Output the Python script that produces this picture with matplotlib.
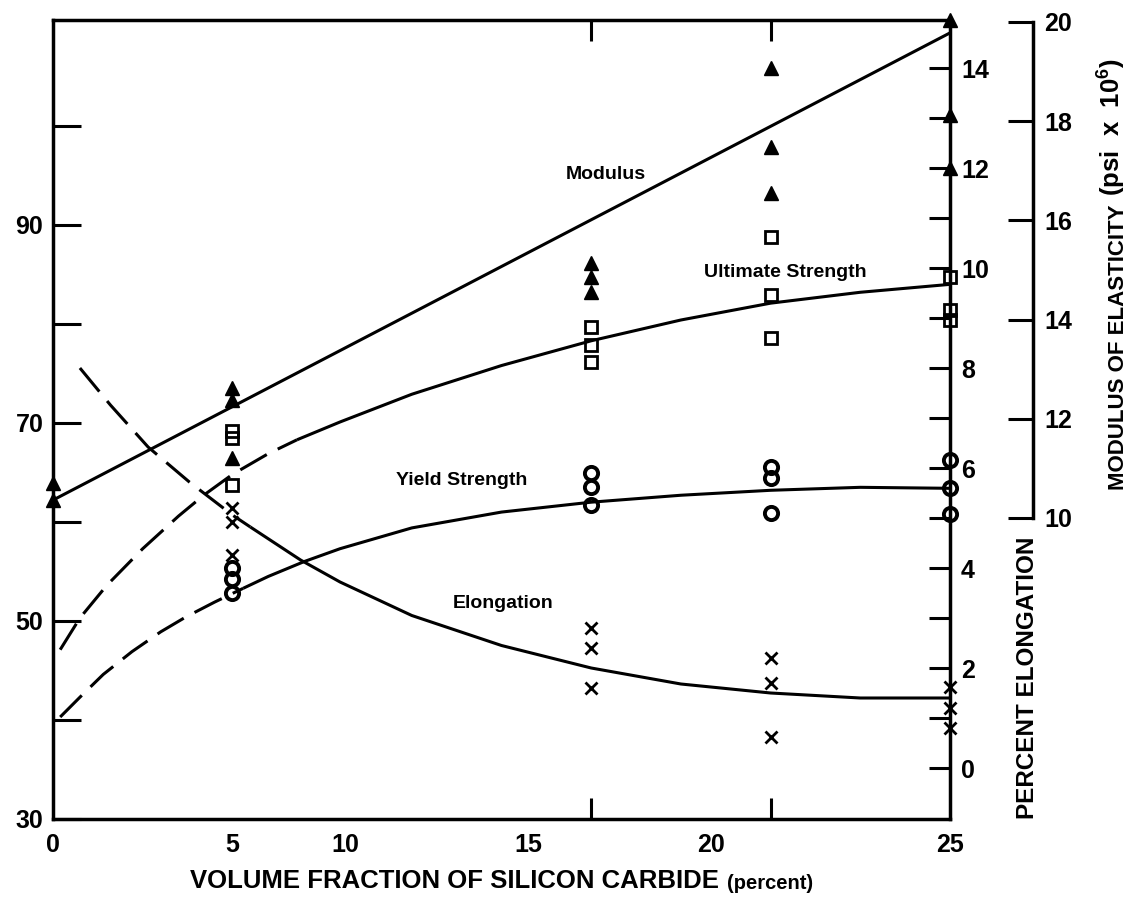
"""Tensile properties of SiC-reinforced aluminium vs. volume fraction of SiC."""

import matplotlib
matplotlib.use("Agg")
import matplotlib.pyplot as plt
import numpy as np

plt.rcParams["font.family"] = ["Liberation Sans", "DejaVu Sans"]
plt.rcParams["font.weight"] = "bold"
plt.rcParams["mathtext.fontset"] = "custom"
plt.rcParams["mathtext.rm"] = "Liberation Sans:bold"
plt.rcParams["mathtext.default"] = "rm"

# ---- fitted curves ----
modulus_x = [0, 25]
modulus_fit = [10.36, 19.78]  # psi x 10^6

ultimate_x = [0.2, 0.75, 1.5, 2.5, 3.5, 4.2, 5.0, 6.0, 6.8, 8.0, 10, 12.5, 15, 17.5, 20, 22.5, 25]
ultimate_fit = [47.1, 50.3, 53.6, 57.3, 60.6, 62.7, 64.8, 66.9, 68.3, 70.1, 72.9, 75.8, 78.3, 80.4, 82.1, 83.2, 84.0]
ultimate_solid_from = 6.8

yield_x = [0.2, 0.75, 1.4, 2.2, 3.0, 3.7, 4.5, 5.3, 6.0, 7.0, 8.0, 10, 12.5, 15, 17.5, 20, 22.5, 25]
yield_fit = [40.3, 42.3, 44.6, 46.9, 48.9, 50.4, 51.9, 53.3, 54.5, 56.0, 57.3, 59.4, 61.0, 62.0, 62.7, 63.2, 63.5, 63.4]
yield_solid_from = 5.3

elong_x = [0.75, 1.6, 2.65, 3.8, 5.0, 5.5, 6.9, 8.0, 10, 12.5, 15, 17.5, 20, 22.5, 25]
elong_fit = [8.0, 7.26, 6.42, 5.72, 5.06, 4.82, 4.16, 3.72, 3.05, 2.45, 2.0, 1.68, 1.5, 1.4, 1.4]
elong_solid_from = 5.5

# ---- measured points ----
modulus_pts_x = [0, 0, 5, 5, 5, 15, 15, 15, 20, 20, 20, 25, 25, 25]
modulus_pts = [10.71, 10.36, 12.62, 12.38, 11.21, 15.14, 14.86, 14.56,
               19.07, 17.48, 16.55, 20.04, 18.13, 17.06]

ultimate_pts_x = [5, 5, 5, 15, 15, 15, 20, 20, 20, 25, 25, 25]
ultimate_pts = [69.2, 68.5, 63.7, 79.7, 77.9, 76.2, 88.8, 82.9, 78.6, 84.7, 81.4, 80.4]

yield_pts_x = [5, 5, 5, 15, 15, 15, 20, 20, 20, 25, 25, 25]
yield_pts = [55.4, 54.2, 52.8, 64.9, 63.5, 61.7, 65.6, 64.4, 60.9, 66.3, 63.4, 60.8]

elong_pts_x = [5, 5, 5, 15, 15, 15, 20, 20, 20, 25, 25, 25]
elong_pts = [5.2, 4.92, 4.26, 2.8, 2.4, 1.6, 2.2, 1.7, 0.62, 1.62, 1.2, 0.8]

# ---- axis labelling ----
x_label_pos = [0, 5, 8.15, 13.25, 18.35, 25]
x_label_text = ["0", "5", "10", "15", "20", "25"]
x_tick_marks = [5, 15, 20]
strength_labels = [30, 50, 70, 90]
strength_minor = [40, 60, 80, 100]
elong_labels = [0, 2, 4, 6, 8, 10, 12, 14]
elong_minor = [1, 3, 5, 7, 9, 11, 13]
modulus_labels = [10, 12, 14, 16, 18, 20]

DASH = (0, (10, 4))
LW = 2.2
TICK_FS = 18


def split_plot(ax, xs, ys, cut):
    xs = np.asarray(xs, dtype=float)
    ys = np.asarray(ys, dtype=float)
    dashed = xs <= cut
    solid = xs >= cut
    ax.plot(xs[dashed], ys[dashed], color="k", lw=LW, ls=DASH)
    ax.plot(xs[solid], ys[solid], color="k", lw=LW, solid_capstyle="butt")


fig = plt.figure(figsize=(11.28, 9.06), dpi=100)
ax = fig.add_axes([53 / 1128, 87 / 906, 897 / 1128, 799 / 906])
ax.set_xlim(0, 25)
ax.set_ylim(30, 110.7)

ax_el = ax.twinx()
ax_el.set_ylim(-1.02, 14.96)
ax_mod = ax.twinx()
ax_mod.set_ylim(3.93, 20.04)

for a in (ax_el, ax_mod):
    for side in ("left", "top", "bottom"):
        a.spines[side].set_visible(False)
ax_el.spines["right"].set_visible(False)
for side in ("left", "right", "top", "bottom"):
    ax.spines[side].set_linewidth(2.5)
ax_mod.spines["right"].set_linewidth(2.5)
ax_mod.spines["right"].set_position(("axes", (1033 - 53) / 897))
ax_mod.spines["right"].set_bounds(10, 20)

# left strength axis
ax.set_yticks(strength_labels)
ax.set_yticks(strength_minor, minor=True)
ax.tick_params(axis="y", which="both", direction="in", length=20, width=2.2,
               labelsize=TICK_FS, pad=7, right=False)
# x axis: labels without marks, marks without labels
ax.set_xticks(x_label_pos, x_label_text)
ax.set_xticks(x_tick_marks, minor=True)
ax.tick_params(axis="x", which="major", length=0, labelsize=TICK_FS, pad=10)
ax.tick_params(axis="x", which="minor", direction="in", length=15, width=2.2,
               top=True, bottom=True)

# elongation scale on the plot's right edge
ax_el.set_yticks(elong_labels)
ax_el.set_yticks(elong_minor, minor=True)
ax_el.tick_params(axis="y", which="both", direction="in", length=15, width=2.2,
                  labelsize=TICK_FS, pad=8)

# modulus scale offset to the right
ax_mod.set_yticks(modulus_labels)
ax_mod.tick_params(axis="y", direction="in", length=18, width=2.2,
                   labelsize=TICK_FS, pad=8)

# curves
ax_mod.plot(modulus_x, modulus_fit, color="k", lw=LW)
split_plot(ax, ultimate_x, ultimate_fit, ultimate_solid_from)
split_plot(ax, yield_x, yield_fit, yield_solid_from)
split_plot(ax_el, elong_x, elong_fit, elong_solid_from)

# points
ax_mod.plot(modulus_pts_x, modulus_pts, ls="none", marker="^", ms=10,
            color="k", clip_on=False, zorder=5)
ax.plot(ultimate_pts_x, ultimate_pts, ls="none", marker="s", ms=9,
        mfc="none", mec="k", mew=2, clip_on=False, zorder=5)
ax.plot(yield_pts_x, yield_pts, ls="none", marker="o", ms=9.5,
        mfc="none", mec="k", mew=2.8, clip_on=False, zorder=5)
ax_el.plot(elong_pts_x, elong_pts, ls="none", marker="x", ms=8,
           mew=2, color="k", clip_on=False, zorder=5)

# curve labels
ax.text(15.4, 95.05, "Modulus", ha="center", va="center", fontsize=14)
ax.text(20.4, 85.2, "Ultimate Strength", ha="center", va="center", fontsize=14)
ax.text(11.4, 64.2, "Yield Strength", ha="center", va="center", fontsize=14)
ax.text(12.55, 51.8, "Elongation", ha="center", va="center", fontsize=14)

# axis titles
xl = fig.text(190 / 1128, 1 - 881 / 906, "VOLUME FRACTION OF SILICON CARBIDE",
              ha="left", va="center", fontsize=18.5)
ax.annotate("(percent)", xy=(1, 0), xycoords=xl, xytext=(6, 0),
            textcoords="offset points", ha="left", va="bottom", fontsize=14.5)

fig.text(1027 / 1128, 1 - 678 / 906, "PERCENT ELONGATION", rotation=90,
         ha="center", va="center", fontsize=17.5)
ml = fig.text(1118 / 1128, 1 - 490 / 906, "MODULUS OF ELASTICITY", rotation=90,
              ha="center", va="bottom", fontsize=16)
ax.annotate("(psi  x  10$^6$)", xy=(1, 1), xycoords=ml, xytext=(0, 6),
            textcoords="offset points", rotation=90, ha="right", va="bottom",
            fontsize=18.5)

fig.savefig("out.png", dpi=100)
